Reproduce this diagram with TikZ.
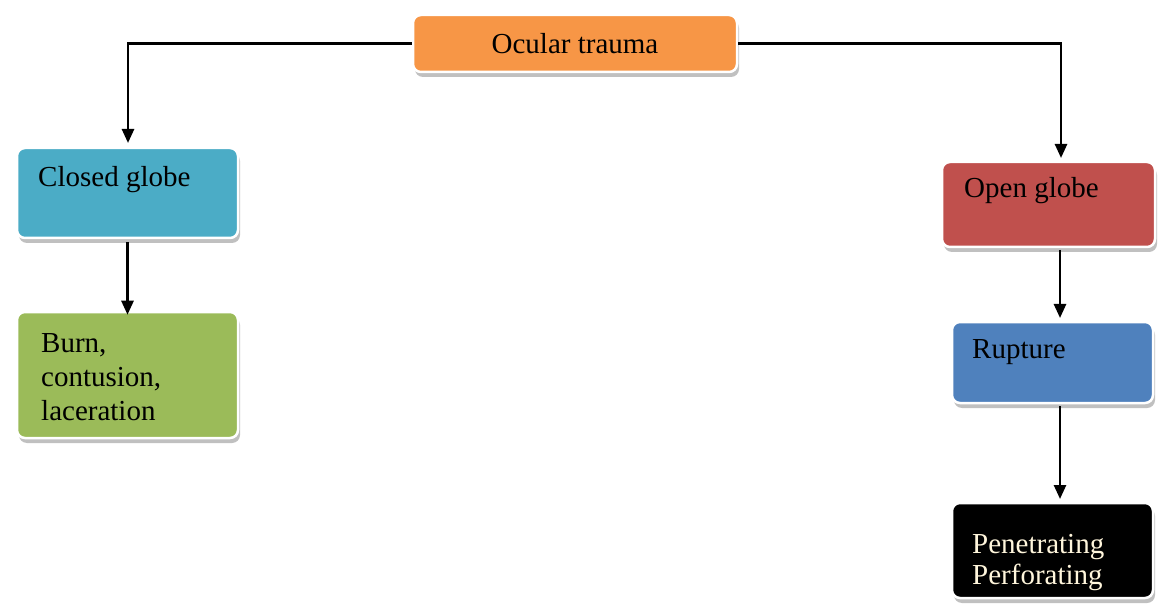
\documentclass[tikz,border=0pt]{standalone}
\usepackage{fontspec}
\setmainfont{Liberation Serif}
\usetikzlibrary{shadows,arrows.meta}
\definecolor{cOrange}{HTML}{F79646}
\definecolor{cTeal}{HTML}{4BACC6}
\definecolor{cGreen}{HTML}{9BBB59}
\definecolor{cRed}{HTML}{C0504D}
\definecolor{cBlue}{HTML}{4F81BD}
\definecolor{cCream}{HTML}{FFF6DC}
\tikzset{
  box/.style={rounded corners=8pt, draw=white, line width=2.5pt, inner sep=0pt,
    drop shadow={shadow xshift=2pt, shadow yshift=-5pt, fill=black!35, opacity=0.7}},
  lbl/.style={inner sep=0pt, align=left, font=\fontsize{29}{34}\selectfont},
  conn/.style={line width=2.6pt, -{Triangle[length=14pt,width=12pt]}}
}
\begin{document}
\begin{tikzpicture}[x=1pt,y=-1pt]
\useasboundingbox[fill=white] (0,0) rectangle (1158,609);
% boxes
\node[box, fill=cOrange, minimum width=324pt, minimum height=57pt, font=\fontsize{29}{34}\selectfont] (ocular) at (575,43.5) {Ocular trauma};
\node[box, fill=cTeal, minimum width=221pt, minimum height=90pt] (closed) at (127.5,193) {};
\node[box, fill=cGreen, minimum width=221pt, minimum height=126pt] (burn) at (127.5,375) {};
\node[box, fill=cRed, minimum width=213pt, minimum height=85pt] (open) at (1048.5,204.5) {};
\node[box, fill=cBlue, minimum width=201pt, minimum height=81pt] (rupture) at (1052.5,362.5) {};
\node[box, fill=black, minimum width=201pt, minimum height=95pt] (pen) at (1052.5,550.5) {};
% texts
\node[lbl, anchor=west] (tclosed) at (38,180) {Closed globe};
\node[lbl, anchor=west] (tburn) at (41,377) {Burn,\\contusion,\\laceration};
\node[lbl, anchor=west] (topen) at (964,191) {Open globe};
\node[lbl, anchor=west] (trupture) at (972,352) {Rupture};
\node[lbl, anchor=west, text=cCream, font=\fontsize{29}{31}\selectfont] (tpen) at (972,563) {Penetrating\\Perforating};
% connectors
\coordinate (lt) at (128,143);
\coordinate (rt) at (1061,158);
\draw[conn] (ocular.west) -| (lt);
\draw[conn] (ocular.east) -| (rt);
\draw[conn] (closed.south) ++(0,3) -- ([yshift=-4pt]burn.north);
\coordinate (o1) at (1060,250);
\coordinate (r1) at (1060,318);
\coordinate (r2) at (1060,406);
\coordinate (p1) at (1060,499);
\draw[conn] (o1) -- (r1);
\draw[conn] (r2) -- (p1);
\end{tikzpicture}
\end{document}
